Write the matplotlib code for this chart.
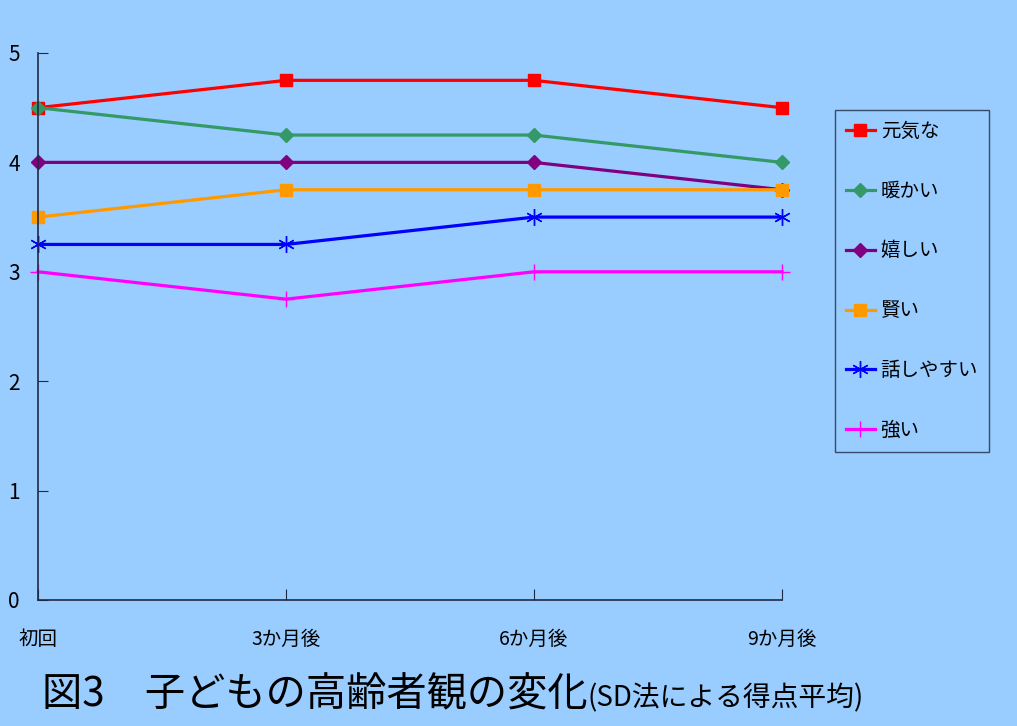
import matplotlib
matplotlib.use('Agg')
import matplotlib.pyplot as plt

plt.rcParams['font.family'] = ['Noto Sans CJK JP', 'DejaVu Sans']

periods = ['初回', '3か月後', '6か月後', '9か月後']
series_names = ['元気な', '暖かい', '嬉しい', '賢い', '話しやすい', '強い']
genki = [4.5, 4.75, 4.75, 4.5]
atatakai = [4.5, 4.25, 4.25, 4.0]
ureshii = [4.0, 4.0, 4.0, 3.75]
kashikoi = [3.5, 3.75, 3.75, 3.75]
hanashiyasui = [3.25, 3.25, 3.5, 3.5]
tsuyoi = [3.0, 2.75, 3.0, 3.0]
y_ticks = [0, 1, 2, 3, 4, 5]

bg = '#99ccff'
axis_col = '#1f2a44'
# colour, marker, size, edge width
styles = [
    ('#ff0000', 's', 9, 1.0),
    ('#339966', 'D', 7, 1.0),
    ('#800080', 'D', 7, 1.0),
    ('#ff9900', 's', 9, 1.0),
    ('#0000ff', (6, 2, 0), 12, 1.0),
    ('#ff00ff', '+', 11, 1.0),
]

fig = plt.figure(figsize=(10.17, 7.26), dpi=100, facecolor=bg)
ax = fig.add_axes([0.0374, 0.1736, 0.7315, 0.7534])
ax.set_facecolor(bg)

all_series = [genki, atatakai, ureshii, kashikoi, hanashiyasui, tsuyoi]
x = list(range(len(periods)))
for name, vals, (c, m, ms, mew) in zip(series_names, all_series, styles):
    ax.plot(x, vals, color=c, marker=m, markersize=ms, markeredgewidth=mew,
            linewidth=2.3, label=name, clip_on=False)

ax.set_xlim(0, 3)
ax.set_ylim(0, 5)
ax.set_xticks(x)
ax.set_xticklabels(periods, fontsize=14)
ax.set_yticks(y_ticks)
ax.tick_params(axis='x', direction='in', length=8, color=axis_col, pad=21)
ax.tick_params(axis='y', direction='in', length=7, color=axis_col, labelsize=15, pad=13)
for s in ['top', 'right']:
    ax.spines[s].set_visible(False)
for s in ['left', 'bottom']:
    ax.spines[s].set_color(axis_col)
    ax.spines[s].set_linewidth(1.2)

leg = ax.legend(loc='upper left', bbox_to_anchor=(1.0712, 0.8958), borderaxespad=0,
                frameon=True, fancybox=False, fontsize=14, handlelength=1.5,
                labelspacing=2.0, borderpad=0.55, handletextpad=0.3)
leg.get_frame().set_facecolor(bg)
leg.get_frame().set_edgecolor(axis_col)
leg.get_frame().set_linewidth(1.0)

title = fig.text(0.041, 0.027, '図3\u3000子どもの高齢者観の変化', fontsize=29,
                 ha='left', va='baseline')
fig.canvas.draw()
bb = title.get_window_extent(fig.canvas.get_renderer())
fig.text(bb.x1 / fig.bbox.width, 0.027, '(SD法による得点平均)', fontsize=20,
         ha='left', va='baseline')

fig.savefig('out.png', dpi=100, facecolor=bg)
